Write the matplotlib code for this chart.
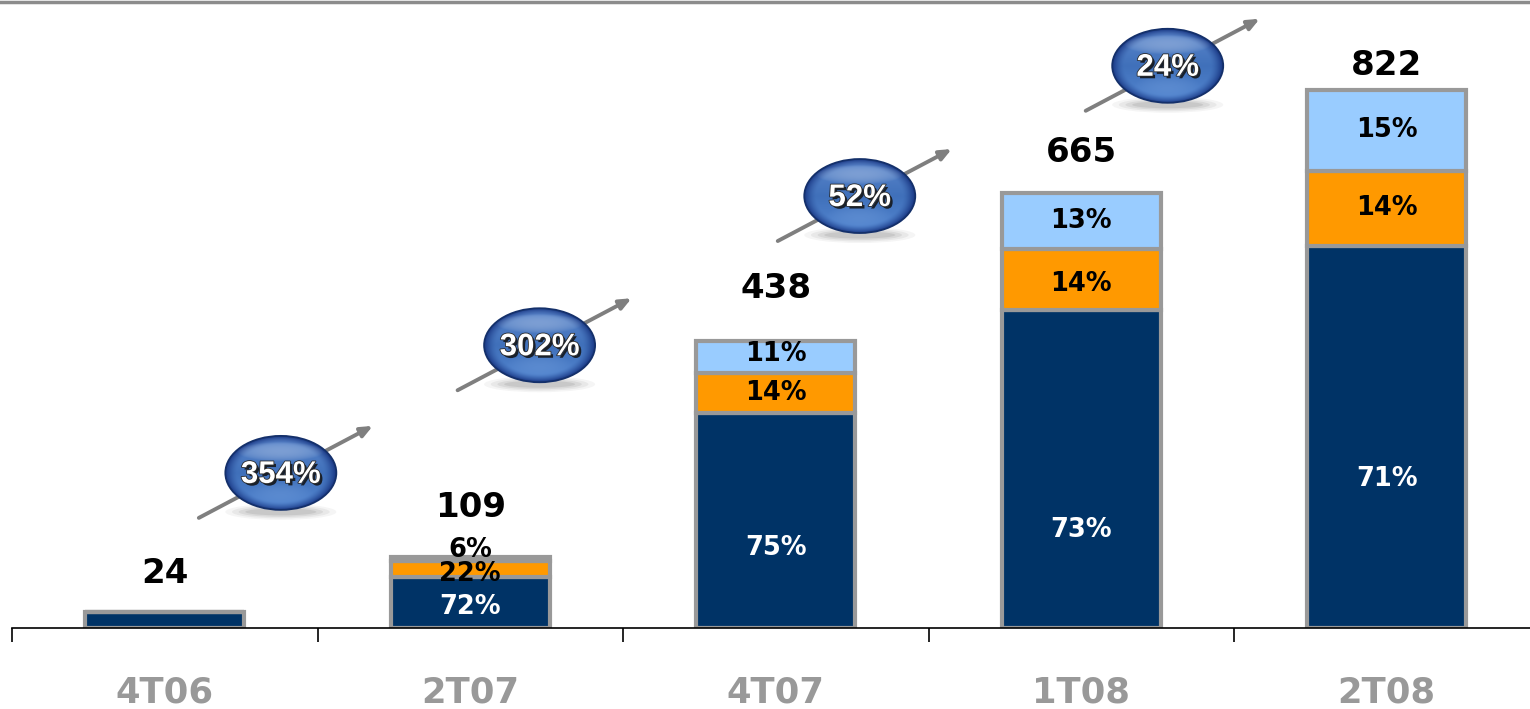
import numpy as np
import matplotlib
matplotlib.use("Agg")
import matplotlib.pyplot as plt
from matplotlib.patches import Ellipse
from matplotlib.lines import Line2D
import matplotlib.patheffects as pe

# ---------------- data ----------------
categories = ["4T06", "2T07", "4T07", "1T08", "2T08"]
totals = [24, 109, 438, 665, 822]
share_navy = [100, 72, 75, 73, 71]
share_orange = [0, 22, 14, 14, 14]
share_light = [0, 6, 11, 13, 15]
show_shares = [False, True, True, True, True]
growth_labels = ["354%", "302%", "52%", "24%"]

# ---------------- layout ----------------
W, H = 1530, 709
fig = plt.figure(figsize=(W / 100, H / 100), dpi=100)
ax = fig.add_axes([12 / W, 81 / H, 1527.5 / W, 628 / H])
ax.set_xlim(-0.5, 4.5)
ax.set_ylim(0, 959.5)

navy, orange, light, edge = "#003366", "#FF9900", "#99CCFF", "#999999"
bw = 0.52
x = np.arange(len(categories))
tot = np.array(totals, float)
seg_n = tot * np.array(share_navy) / 100
seg_o = tot * np.array(share_orange) / 100
seg_l = tot * np.array(share_light) / 100

ax.bar(x, seg_n, bw, color=navy, edgecolor=edge, linewidth=3, zorder=2)
ax.bar(x, seg_o, bw, bottom=seg_n, color=orange, edgecolor=edge, linewidth=3, zorder=2)
ax.bar(x, seg_l, bw, bottom=seg_n + seg_o, color=light, edgecolor=edge, linewidth=3, zorder=2)

# labels inside segments
navy_frac = [0.5, 0.41, 0.37, 0.31, 0.39]
orange_dy = [0, -5, 0, -4, 0]   # px offsets (negative = lower)
light_dy = [0, 9, 3, 0, 0]
px = 959.5 / 628.0
lab_fs = 18.5
for i in range(len(categories)):
    if not show_shares[i]:
        continue
    ax.text(x[i], seg_n[i] * navy_frac[i], f"{share_navy[i]}%", ha="center", va="center",
            color="white", fontsize=lab_fs, fontweight="bold", zorder=5)
    ax.text(x[i], seg_n[i] + seg_o[i] / 2 + orange_dy[i] * px, f"{share_orange[i]}%",
            ha="center", va="center", color="black", fontsize=lab_fs, fontweight="bold", zorder=5)
    ax.text(x[i], seg_n[i] + seg_o[i] + seg_l[i] / 2 + light_dy[i] * px, f"{share_light[i]}%",
            ha="center", va="center", color="black", fontsize=lab_fs, fontweight="bold", zorder=6)

# totals above bars
total_off_px = [39, 49, 53, 40, 24]
for i, t in enumerate(totals):
    ax.text(x[i], t + total_off_px[i] * px, f"{t}", ha="center", va="center",
            color="black", fontsize=24.5, fontweight="bold", zorder=5)

# axes styling
for s in ["top", "right", "left"]:
    ax.spines[s].set_visible(False)
ax.spines["bottom"].set_linewidth(1.2)
ax.spines["bottom"].set_color("black")
ax.set_yticks([])
ax.set_xticks(x)
ax.set_xticklabels(categories, fontsize=25.5, fontweight="bold", color="#999999")
ax.set_xticks(np.arange(-0.5, 4.6, 1.0), minor=True)
ax.tick_params(axis="x", which="major", length=0, pad=34)
ax.tick_params(axis="x", which="minor", length=10, width=1.2, color="black", direction="out")

# top gray line
fig.add_artist(Line2D([0, 1], [1 - 2 / H, 1 - 2 / H], transform=fig.transFigure,
                      color="#8c8c8c", lw=2.5))

# ---------------- growth bubbles (overlay in pixel coords) ----------------
ov = fig.add_axes([0, 0, 1, 1], zorder=10)
ov.set_xlim(0, W)
ov.set_ylim(H, 0)
ov.axis("off")
ov.patch.set_alpha(0)

bubble_x = [0.38, 1.227, 2.275, 3.283]      # data x of bubble centres
bubble_y = [237, 432, 660, 859]             # data y of bubble centres
fig.canvas.draw()

bw_px, bh_px = 111, 74


def gradient_img():
    n = 220
    u = np.linspace(-1, 1, n)
    U, V = np.meshgrid(u, u)          # V: -1 top, +1 bottom
    r = np.sqrt(U ** 2 + V ** 2)
    top = np.array([0.36, 0.53, 0.80])
    mid = np.array([0.25, 0.44, 0.73])
    bot = np.array([0.33, 0.53, 0.82])
    tv = (V + 1) / 2
    base = np.where(tv[..., None] < 0.5,
                    top * (1 - 2 * tv[..., None]) + mid * (2 * tv[..., None]),
                    mid * (2 - 2 * tv[..., None]) + bot * (2 * tv[..., None] - 1))
    # darken towards rim (thin band)
    rim = np.array([0.10, 0.22, 0.52])
    t = np.clip((r - 0.78) / 0.22, 0, 1) ** 1.5
    img = base * (1 - t[..., None]) + rim * t[..., None]
    # glossy highlight band near the top
    hl = np.clip(1 - ((U / 0.78) ** 2 + ((V + 0.58) / 0.26) ** 2), 0, 1) ** 0.7 * 0.25
    img = img * (1 - hl[..., None]) + hl[..., None]
    # soft light reflection at the bottom centre
    lb = np.clip(1 - ((U / 0.6) ** 2 + ((V - 0.55) / 0.32) ** 2), 0, 1) * 0.18
    img = img * (1 - lb[..., None]) + np.array([0.6, 0.75, 0.95]) * lb[..., None]
    return np.clip(img, 0, 1)


grad = gradient_img()

for k, lab in enumerate(growth_labels):
    dx, dy = ax.transData.transform((bubble_x[k], bubble_y[k]))
    cx, cy = dx, H - dy
    # arrow
    ov.annotate("", xy=(cx + 92, cy - 47), xytext=(cx - 82, cy + 45),
                arrowprops=dict(arrowstyle="-|>,head_length=0.7,head_width=0.3",
                                color="#7f7f7f", lw=2.8, shrinkA=0, shrinkB=0), zorder=1)
    # shadow
    for j, a in enumerate([0.06, 0.08, 0.10, 0.12]):
        ov.add_patch(Ellipse((cx, cy + bh_px / 2 + 2), bw_px * (1.0 - 0.12 * j),
                             16 - 3 * j, color="#555555", alpha=a, lw=0, zorder=2))
    # body
    el = Ellipse((cx, cy), bw_px, bh_px, facecolor="none", edgecolor="#14306a", lw=1.3, zorder=4)
    im = ov.imshow(grad, extent=(cx - bw_px / 2, cx + bw_px / 2, cy + bh_px / 2, cy - bh_px / 2),
                   zorder=3, interpolation="bilinear", aspect="auto")
    clip = Ellipse((cx, cy), bw_px, bh_px, transform=ov.transData)
    im.set_clip_path(clip)
    ov.add_patch(el)
    ov.text(cx, cy + 2, lab, ha="center", va="center", color="white", fontsize=22.5,
            fontweight="bold", family="Liberation Sans", zorder=6,
            path_effects=[pe.withSimplePatchShadow(offset=(1.8, -1.8), shadow_rgbFace="#111111", alpha=0.85),
                          pe.withStroke(linewidth=1.2, foreground="#2a2a2a")])
ov.set_xlim(0, W)
ov.set_ylim(H, 0)

fig.savefig("out.png", dpi=100)
